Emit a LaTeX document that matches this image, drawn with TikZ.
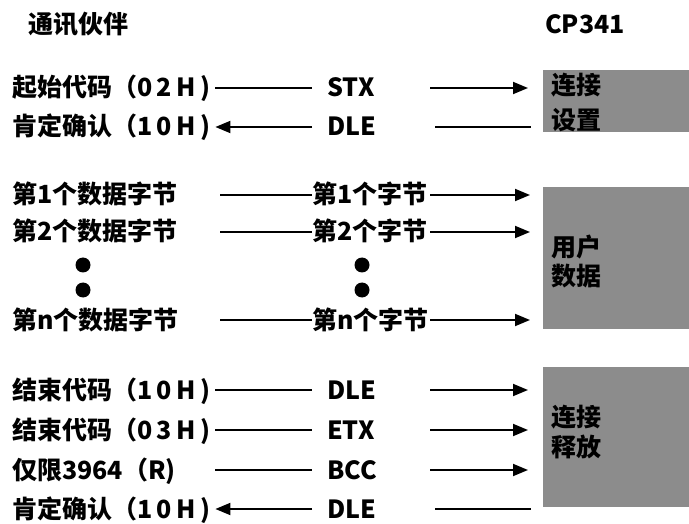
\documentclass[tikz,border=0pt]{standalone}
\usepackage{fontspec}
\setmainfont{Noto Sans CJK SC}
\usetikzlibrary{arrows.meta}
\definecolor{boxgray}{HTML}{8C8C8C}
\newcommand\widelat[1]{{\addfontfeature{LetterSpace=18}#1}}
\begin{document}
\begin{tikzpicture}[x=1pt,y=-1pt,
  txt/.style={font=\fontsize{25}{30}\selectfont\bfseries, inner sep=0pt, text height=21pt, text depth=3pt, anchor=west},
  lbl/.style={txt, text width=203pt, align=left},
  mid/.style={txt, text width=118pt, align=left},
  ln/.style={line width=1.8pt, draw=black},
  arr/.style={ln, -{Triangle[length=15pt,width=12pt]}},
  blk/.style={fill=boxgray, draw=none, anchor=north west, inner sep=0pt, minimum width=146pt},
  dotnode/.style={circle, fill=black, minimum size=15pt, inner sep=0pt}]
\useasboundingbox (0,0) rectangle (689,524);

% headers
\node[txt] (t1) at (28,25) {通讯伙伴};
\node[txt] (t2) at (545,25) {CP341};

% boxes
\node[blk, minimum height=62pt] (b1) at (543,70) {};
\node[blk, minimum height=142pt] (b2) at (543,187) {};
\node[blk, minimum height=140pt] (b3) at (543,367) {};
\node[txt] (b1a) at (551,86) {连接};
\node[txt] (b1b) at (551,121) {设置};
\node[txt] (b2a) at (551,248) {用户};
\node[txt] (b2b) at (551,277) {数据};
\node[txt] (b3a) at (551,417) {连接};
\node[txt] (b3b) at (551,447) {释放};

% row 1
\node[lbl] (l1) at (12,88) {起始代码（\widelat{02H)}};
\node[mid] (m1) at (312,88) {\hspace*{15pt}STX};
\draw[ln] (l1.east) -- (m1.west);
\draw[arr, shorten >=15pt] (m1.east) -- (m1.east -| b1.west);
% row 2
\node[lbl] (l2) at (12,127) {肯定确认（\widelat{10H)}};
\node[mid] (m2) at (312,127) {\hspace*{15pt}DLE};
\draw[arr] (m2.west) -- (l2.east);
\draw[ln, shorten <=5pt, shorten >=12pt] (m2.east) -- (m2.east -| b1.west);

% row 3
\node[lbl] (l3) at (12,195) {第1个数据字节};
\node[mid] (m3) at (312,195) {第1个字节};
\draw[ln, shorten <=5pt] (l3.east) -- (m3.west);
\draw[arr, shorten >=13pt] (m3.east) -- (m3.east -| b2.west);
% row 4
\node[lbl] (l4) at (12,232) {第2个数据字节};
\node[mid] (m4) at (312,232) {第2个字节};
\draw[ln, shorten <=5pt] (l4.east) -- (m4.west);
\draw[arr, shorten >=13pt] (m4.east) -- (m4.east -| b2.west);
% dots
\node[dotnode] (d1) at (83,265) {};
\node[dotnode] (d2) at (83,290) {};
\node[dotnode] (d3) at (362,265) {};
\node[dotnode] (d4) at (362,290) {};
% row n
\node[lbl] (l5) at (12,320) {第n个数据字节};
\node[mid] (m5) at (312,320) {第n个字节};
\draw[ln, shorten <=5pt] (l5.east) -- (m5.west);
\draw[arr, shorten >=13pt] (m5.east) -- (m5.east -| b2.west);

% row 6
\node[lbl] (l6) at (12,390) {结束代码（\widelat{10H)}};
\node[mid] (m6) at (312,390) {\hspace*{15pt}DLE};
\draw[ln] (l6.east) -- (m6.west);
\draw[arr, shorten >=15pt] (m6.east) -- (m6.east -| b3.west);
% row 7
\node[lbl] (l7) at (12,430) {结束代码（\widelat{03H)}};
\node[mid] (m7) at (312,430) {\hspace*{15pt}ETX};
\draw[ln] (l7.east) -- (m7.west);
\draw[arr, shorten >=15pt] (m7.east) -- (m7.east -| b3.west);
% row 8
\node[lbl] (l8) at (12,470) {仅限3964（R)};
\node[mid] (m8) at (312,470) {\hspace*{15pt}BCC};
\draw[ln] (l8.east) -- (m8.west);
\draw[arr, shorten >=15pt] (m8.east) -- (m8.east -| b3.west);
% row 9
\node[lbl] (l9) at (12,509) {肯定确认（\widelat{10H)}};
\node[mid] (m9) at (312,509) {\hspace*{15pt}DLE};
\draw[arr] (m9.west) -- (l9.east);
\draw[ln, shorten <=5pt, shorten >=12pt] (m9.east) -- (m9.east -| b3.west);
\end{tikzpicture}
\end{document}
